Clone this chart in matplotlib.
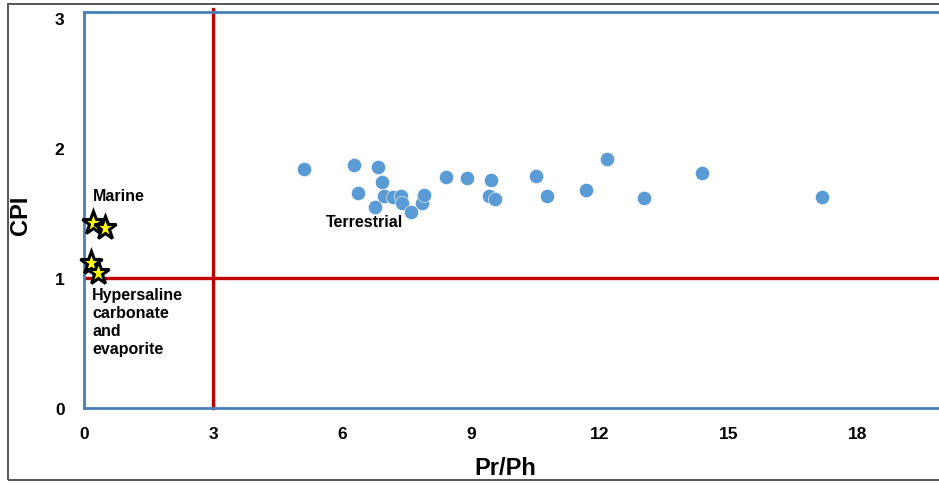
import matplotlib
matplotlib.use("Agg")
import matplotlib.pyplot as plt
from matplotlib.patches import Rectangle
from matplotlib.markers import MarkerStyle

plt.rcParams['font.family'] = ['Liberation Sans', 'DejaVu Sans']

# Terrestrial samples (Pr/Ph, CPI)
terr_prph = [5.12, 6.28, 6.84, 6.93, 6.37, 6.98, 7.19, 7.37, 7.40, 6.77, 7.60, 7.86, 7.91,
             8.42, 8.91, 9.47, 9.42, 9.56, 10.51, 10.77, 11.67, 12.16, 13.02, 14.37, 17.16]
terr_cpi = [1.835, 1.867, 1.85, 1.74, 1.65, 1.63, 1.62, 1.63, 1.575, 1.54, 1.505, 1.575, 1.64,
            1.775, 1.77, 1.75, 1.63, 1.605, 1.78, 1.63, 1.675, 1.915, 1.61, 1.805, 1.62]

# Marine / hypersaline samples
star_prph = [0.21, 0.49, 0.16, 0.33]
star_cpi = [1.42, 1.38, 1.11, 1.04]

x_ticks = [0, 3, 6, 9, 12, 15, 18]
y_ticks = [0, 1, 2, 3]

W, H = 939, 485
fig = plt.figure(figsize=(W / 100, H / 100), dpi=100)

left_px, right_px = 84, 939
bottom_px, top_px = 408.7, 13.3
ax = fig.add_axes([left_px / W, (H - bottom_px) / H, (right_px - left_px) / W,
                   (bottom_px - top_px) / H])

xunit = 43.0
yunit = 130.0
ax.set_xlim(0, (right_px - left_px) / xunit)
ax.set_ylim(0, (bottom_px - top_px) / yunit)

spine_col = '#4A7EBB'
for s in ['left', 'bottom', 'top']:
    ax.spines[s].set_color(spine_col)
    ax.spines[s].set_linewidth(2.0)
ax.spines['right'].set_visible(False)

red = '#C00000'
ax.axhline(1, color=red, lw=2.4, zorder=2)
ax.axvline(3, ymin=0, ymax=1.008, color=red, lw=2.4, zorder=2, clip_on=False)

ax.scatter(terr_prph, terr_cpi, s=105, color='#5B9BD5', edgecolors='white',
           linewidths=0.4, zorder=3)
star = MarkerStyle('*', joinstyle='miter')
ax.plot(star_prph, star_cpi, linestyle='none', marker=star, markersize=17,
        markerfacecolor='#FFFF00', markeredgecolor='black', markeredgewidth=2.2,
        zorder=4, clip_on=False)

ax.set_xticks(x_ticks)
ax.set_yticks(y_ticks)
ax.tick_params(length=0, labelsize=12.5)
ax.tick_params(axis='x', pad=13.5)
ax.tick_params(axis='y', pad=14)
for lab in ax.get_xticklabels() + ax.get_yticklabels():
    lab.set_fontweight('bold')

ax.set_xlabel('Pr/Ph', fontsize=17, fontweight='bold')
ax.set_ylabel('CPI', fontsize=17, fontweight='bold')
ax.xaxis.set_label_coords((505 - left_px) / (right_px - left_px),
                          -(469 - bottom_px) / (bottom_px - top_px))
ax.yaxis.set_label_coords(-(84 - 20) / (right_px - left_px), (bottom_px - 215) / (bottom_px - top_px))
ax.xaxis.label.set_va('center')
ax.yaxis.label.set_va('center')

ax.text(0.21, 1.63, 'Marine', fontsize=11.5, fontweight='bold', va='center', ha='left')
ax.text(5.63, 1.436, 'Terrestrial', fontsize=11.5, fontweight='bold', va='center', ha='left')
ax.text(0.19, 0.93, 'Hypersaline\ncarbonate\nand\nevaporite', fontsize=11.5,
        fontweight='bold', va='top', ha='left', linespacing=1.25)

# outer frame
fig.patches.append(Rectangle((8 / W, (H - 481) / H), (W - 8 + 5) / W, (481 - 5) / H,
                             transform=fig.transFigure, fill=False, edgecolor='#555555',
                             linewidth=1.4))

fig.savefig('out.png', dpi=100)
